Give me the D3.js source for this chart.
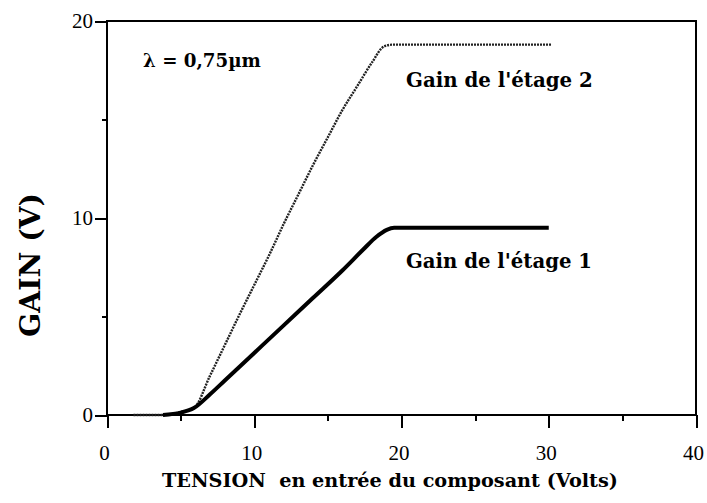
<!DOCTYPE html>
<html>
<head>
<meta charset="utf-8">
<script src="https://cdn.jsdelivr.net/npm/d3@7"></script>
<style>
  html, body { margin: 0; padding: 0; background: #fff; }
  svg { display: block; }
</style>
</head>
<body>
<svg id="chart" width="707" height="503"></svg>
<script>
// Input voltage (V) and measured gain for each amplifier stage
const stage1X = [3.8, 5.0, 5.9, 7.0, 8.0, 10.0, 12.0, 14.0, 16.0, 17.4, 18.3, 19.0, 19.5, 30.0];
const stage1Y = [0.0, 0.12, 0.35, 1.05, 1.75, 3.15, 4.55, 5.95, 7.35, 8.4, 9.05, 9.4, 9.5, 9.5];

const stage2X = [1.8, 3.8, 5.0, 5.9, 7.0, 8.0, 9.0, 10.0, 11.0, 12.0, 13.0, 14.0, 15.0, 16.0, 17.0, 18.0, 18.8, 19.4, 30.2];
const stage2Y = [0.0, 0.0, 0.15, 0.35, 2.0, 3.55, 5.1, 6.6, 8.1, 9.7, 11.2, 12.7, 14.1, 15.5, 16.7, 17.9, 18.7, 18.8, 18.8];

const xMajorTicks = [0, 10, 20, 30, 40];
const xMinorTicks = [5, 15, 25, 35];
const yMajorTicks = [0, 10, 20];
const yMinorTicks = [5, 15];

const seriesLabels = ["Gain de l'étage 1", "Gain de l'étage 2"];
const xTitle = "TENSION  en entrée du composant (Volts)";
const yTitle = "GAIN (V)";
const wavelengthNote = "λ = 0,75µm";

const svg = d3.select("#chart");
const plot = { left: 107, right: 696, top: 21, bottom: 415 };

const x = d3.scaleLinear().domain([0, 40]).range([plot.left, plot.right]);
const y = d3.scaleLinear().domain([0, 20]).range([plot.bottom, plot.top]);

const serif = "'DejaVu Serif', serif";
const tickFont = "'Liberation Serif', 'Times New Roman', serif";

// Scale a text's font size so that it spans the given width
function fitWidth(sel, width) {
  const len = sel.node().getComputedTextLength();
  const fs = parseFloat(sel.attr("font-size"));
  sel.attr("font-size", (fs * width / len).toFixed(2));
  return sel;
}

// Bottom axis: major ticks with labels, minor ticks without
const gx = svg.append("g").attr("transform", `translate(0,${plot.bottom})`);
gx.call(d3.axisBottom(x).tickValues(xMajorTicks).tickSize(13).tickSizeOuter(0).tickFormat(d3.format("d")));
gx.append("g").call(d3.axisBottom(x).tickValues(xMinorTicks).tickSize(6).tickSizeOuter(0).tickFormat(""));
gx.selectAll("path.domain").remove();
gx.selectAll(".tick line").attr("stroke", "#000").attr("stroke-width", 2).attr("shape-rendering", "crispEdges");
gx.selectAll(".tick text")
  .style("font-family", tickFont).style("font-size", "21px").attr("fill", "#000")
  .attr("y", 0).attr("dy", 0).attr("dx", -3)
  .attr("transform", "translate(0,45)");

// Left axis
const gy = svg.append("g").attr("transform", `translate(${plot.left},0)`);
gy.call(d3.axisLeft(y).tickValues(yMajorTicks).tickSize(12).tickSizeOuter(0).tickFormat(d3.format("d")));
gy.append("g").call(d3.axisLeft(y).tickValues(yMinorTicks).tickSize(5).tickSizeOuter(0).tickFormat(""));
gy.selectAll("path.domain").remove();
gy.selectAll(".tick line").attr("stroke", "#000").attr("stroke-width", 2).attr("shape-rendering", "crispEdges");
gy.selectAll(".tick text")
  .style("font-family", tickFont).style("font-size", "21px").attr("fill", "#000")
  .attr("x", -14).attr("dy", "0.33em");

// Frame
const frame = svg.append("g").attr("stroke", "#000").attr("stroke-width", 2)
  .attr("fill", "none").attr("shape-rendering", "crispEdges");
frame.append("line").attr("x1", x(0)).attr("x2", x(40)).attr("y1", y(0)).attr("y2", y(0));
frame.append("line").attr("x1", x(0)).attr("x2", x(0)).attr("y1", y(20)).attr("y2", y(0));
frame.append("line").attr("x1", x(0) - 1).attr("x2", x(40) + 1).attr("y1", y(20)).attr("y2", y(20));
frame.append("line").attr("x1", x(40)).attr("x2", x(40)).attr("y1", y(20)).attr("y2", y(0));

// Curves
const line = d3.line().x(d => x(d[0])).y(d => y(d[1])).curve(d3.curveMonotoneX);
const stage1 = stage1X.map((v, i) => [v, stage1Y[i]]);
const stage2 = stage2X.map((v, i) => [v, stage2Y[i]]);

svg.append("path").datum(stage2)
  .attr("d", line)
  .attr("fill", "none")
  .attr("stroke", "#222")
  .attr("stroke-width", 2.4)
  .attr("stroke-dasharray", "2,1");

svg.append("path").datum(stage1)
  .attr("d", line)
  .attr("fill", "none")
  .attr("stroke", "#000")
  .attr("stroke-width", 4)
  .attr("stroke-linejoin", "round");

// Annotations
const bold = (txt, px, py, width) => fitWidth(
  svg.append("text").attr("x", px).attr("y", py)
    .attr("font-family", serif).attr("font-weight", "bold").attr("font-size", 18)
    .attr("fill", "#000").style("white-space", "pre").text(txt), width);

bold(wavelengthNote, 143, 67, 118);
bold(seriesLabels[1], 406, 87, 187);
bold(seriesLabels[0], 406, 268, 186);
bold(xTitle, 162, 487, 456);

fitWidth(svg.append("text")
  .attr("transform", "translate(40,265) rotate(-90)")
  .attr("text-anchor", "middle")
  .attr("font-family", serif).attr("font-weight", "bold").attr("font-size", 26)
  .attr("fill", "#000").text(yTitle), 144);
</script>
</body>
</html>
